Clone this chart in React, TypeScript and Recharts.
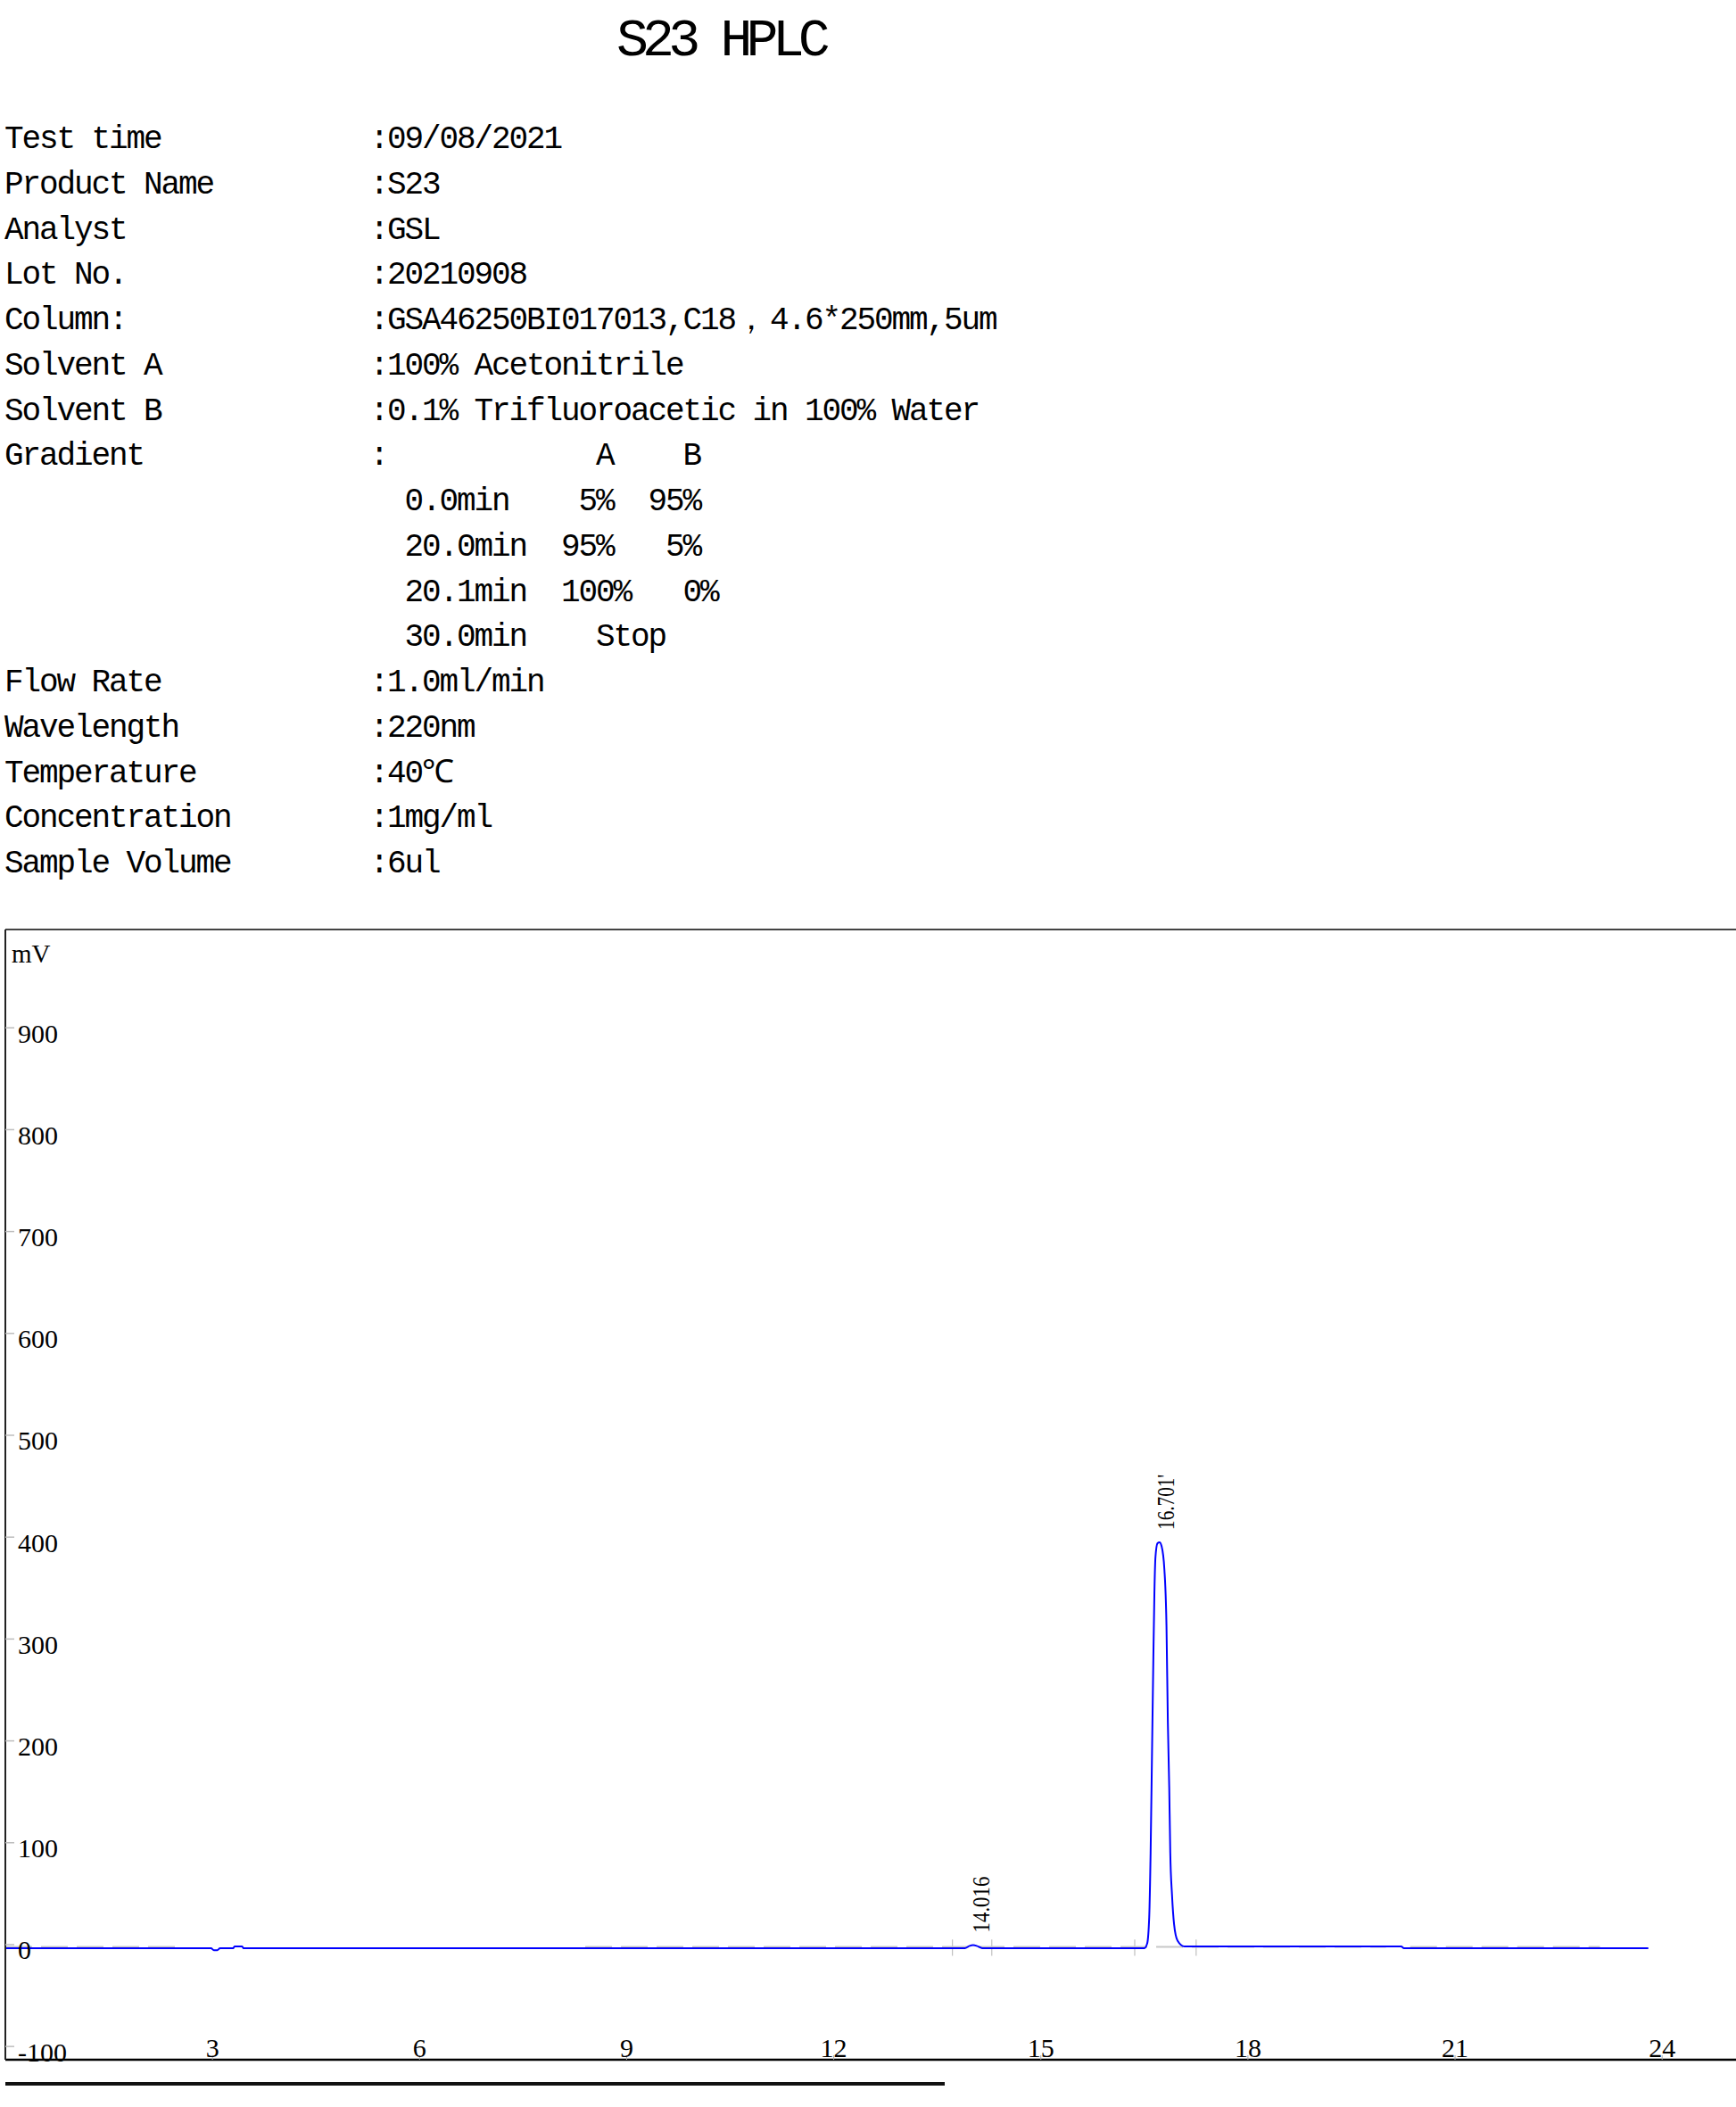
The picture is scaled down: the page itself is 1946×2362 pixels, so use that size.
import React from 'react';
import { LineChart, Line, XAxis, YAxis, ReferenceLine, ReferenceDot } from 'recharts';

// chromatogram trace (retention time in min, signal in mV)
const signalTime = [
  0, 2.98, 3.02, 3.07, 3.11, 3.3, 3.32, 3.43, 3.45, 13.9, 13.96, 14.02, 14.08, 14.15,
  16.5, 16.54, 16.57, 16.59, 16.61, 16.63, 16.645, 16.66, 16.69, 16.72, 16.75,
  16.79, 16.82, 16.84, 16.86, 16.875, 16.9, 16.93, 16.98, 17.08, 20.22, 20.26, 23.8,
];
const signalMv = [
  -3.5, -3.5, -5.5, -5.5, -3.5, -3.5, -1.7, -1.7, -3.5, -3.5, -1.5, -0.5, -1.5, -3.5,
  -3.5, 1, 27, 90, 186, 282, 345, 380, 394, 395, 391,
  368, 313, 218, 154, 90, 49, 20, 4, -1.7, -1.7, -3.5, -3.5,
];

// grey integration baseline (null = gap)
const baseTime = [0, 2.5, 2.5, 8.4, 20.0, 20.0, 20.35, 23.1];
const baseMv = [-2.3, -2.3, null, -2.3, -2.3, null, -2.3, -2.3];

// peak start / end markers
const markerTimes = [13.72, 14.29, 16.36, 17.25];

// peak labels
const peakTimes = [14.016, 16.701];
const peakHeights = [-0.5, 395];
const peakLabels = ['14.016', "16.701'"];
const peakLabelLengths = [63, 62];

const xTicks = [3, 6, 9, 12, 15, 18, 21, 24];
const yTicks = [-100, 0, 100, 200, 300, 400, 500, 600, 700, 800, 900];
const X_MAX = 25.07;
const Y_MIN = -113;
const Y_MAX = 996.5;

const title = 'S23 HPLC';
const infoRows: [string, string][] = [
  ['Test time', ':09/08/2021'],
  ['Product Name', ':S23'],
  ['Analyst', ':GSL'],
  ['Lot No.', ':20210908'],
  ['Column:', ':GSA46250BI017013,C18，4.6*250mm,5um'],
  ['Solvent A', ':100% Acetonitrile'],
  ['Solvent B', ':0.1% Trifluoroacetic in 100% Water'],
  ['Gradient', ':            A    B'],
  ['', '  0.0min    5%  95%'],
  ['', '  20.0min  95%   5%'],
  ['', '  20.1min  100%   0%'],
  ['', '  30.0min    Stop'],
  ['Flow Rate', ':1.0ml/min'],
  ['Wavelength', ':220nm'],
  ['Temperature', ':40℃'],
  ['Concentration', ':1mg/ml'],
  ['Sample Volume', ':6ul'],
];

const signal = signalTime.map((t, i) => ({ t, mv: signalMv[i] }));
const baseline = baseTime.map((t, i) => ({ t, mv: baseMv[i] }));

const MONO = '"Liberation Mono", monospace';
const SERIF = '"Liberation Serif", "Times New Roman", serif';
const COL = 19.5;
const AXIS_FONT = 30;

const renderValue = (value: string) =>
  value.split(/([，℃])/).map((part, i) =>
    part === '，' || part === '℃' ? (
      <span key={i} style={{ display: 'inline-block', width: COL * 2, letterSpacing: 0 }}>
        {part}
      </span>
    ) : (
      <span key={i}>{part}</span>
    )
  );

const YTick = (props: any) => {
  const { x, y, payload } = props;
  return (
    <g>
      <line x1={x} x2={x + 10} y1={y} y2={y} stroke="#bdbdbd" strokeWidth={1.5} />
      <text x={x + 14} y={y + 16.5} fontFamily={SERIF} fontSize={AXIS_FONT} fill="#000" textAnchor="start">
        {payload.value}
      </text>
    </g>
  );
};

const XTick = (props: any) => {
  const { x, y, payload } = props;
  return (
    <g>
      <line x1={x} x2={x} y1={y} y2={y - 5} stroke="#aaaaaa" strokeWidth={1} />
      <text x={x} y={y - 3} fontFamily={SERIF} fontSize={AXIS_FONT} fill="#000" textAnchor="middle">
        {payload.value}
      </text>
    </g>
  );
};

const UnitLabel = (props: any) => {
  const { viewBox } = props;
  return (
    <text x={viewBox.x + 8} y={viewBox.y + 37} fontFamily={SERIF} fontSize={29} fill="#000">
      mV
    </text>
  );
};

const PeakLabel = (props: any) => {
  const { viewBox, text, len } = props;
  const x = viewBox.x + 1 + 18;
  const y = viewBox.y + 1 - 14;
  return (
    <text
      transform={`translate(${x},${y}) rotate(-90)`}
      fontFamily={SERIF}
      fontSize={28}
      fill="#000"
      textLength={len}
      lengthAdjust="spacingAndGlyphs"
    >
      {text}
    </text>
  );
};

export default function App() {
  return (
    <div
      style={{
        position: 'absolute',
        left: 0,
        top: 0,
        width: 1946,
        height: 2362,
        background: '#fff',
        overflow: 'hidden',
      }}
    >
      <div
        style={{
          position: 'absolute',
          left: 691,
          top: 16,
          fontFamily: MONO,
          fontSize: 60,
          lineHeight: '60px',
          letterSpacing: -6.9,
          whiteSpace: 'pre',
          color: '#000',
        }}
      >
        {title}
      </div>

      {infoRows.map(([label, value], i) => (
        <div
          key={i}
          style={{
            position: 'absolute',
            top: 132 + i * 50.75,
            left: 0,
            height: 50.75,
            fontFamily: MONO,
            fontSize: 36,
            lineHeight: '50.75px',
            letterSpacing: -2.1,
            whiteSpace: 'pre',
            color: '#000',
          }}
        >
          <span style={{ position: 'absolute', left: 5 }}>{label}</span>
          <span style={{ position: 'absolute', left: 5 + 21 * COL }}>{renderValue(value)}</span>
        </div>
      ))}

      <div style={{ position: 'absolute', left: 0, top: 1030 }}>
        <LineChart width={1946} height={1300} margin={{ top: 12, right: 0, left: 5, bottom: 20 }}>
          <XAxis
            dataKey="t"
            type="number"
            domain={[0, X_MAX]}
            ticks={xTicks}
            allowDataOverflow
            height={1}
            tickSize={0}
            tickMargin={0}
            tickLine={false}
            tick={<XTick />}
            axisLine={{ stroke: '#000', strokeWidth: 2.5 }}
          />
          <YAxis
            type="number"
            domain={[Y_MIN, Y_MAX]}
            ticks={yTicks}
            allowDataOverflow
            width={1}
            tickSize={0}
            tickMargin={0}
            tickLine={false}
            tick={<YTick />}
            axisLine={{ stroke: '#222', strokeWidth: 2 }}
            label={<UnitLabel />}
          />
          <ReferenceLine y={Y_MAX} stroke="#444" strokeWidth={2} />
          {markerTimes.map((t) => (
            <ReferenceLine
              key={t}
              segment={[
                { x: t, y: 5 },
                { x: t, y: -11 },
              ]}
              stroke="#b4b4b4"
              strokeWidth={1}
            />
          ))}
          <Line
            data={baseline}
            dataKey="mv"
            type="linear"
            stroke="#c8c8c8"
            strokeWidth={2}
            strokeDasharray="30 10"
            dot={false}
            connectNulls={false}
            isAnimationActive={false}
          />
          <Line
            data={signal}
            dataKey="mv"
            type="monotone"
            stroke="#0000ff"
            strokeWidth={2}
            dot={false}
            isAnimationActive={false}
          />
          {peakTimes.map((t, i) => (
            <ReferenceDot
              key={t}
              x={t}
              y={peakHeights[i]}
              r={1}
              fill="none"
              stroke="none"
              label={<PeakLabel text={peakLabels[i]} len={peakLabelLengths[i]} />}
            />
          ))}
        </LineChart>
      </div>

      <div style={{ position: 'absolute', left: 6, top: 2334, width: 1053, height: 4, background: '#111' }} />
    </div>
  );
}
